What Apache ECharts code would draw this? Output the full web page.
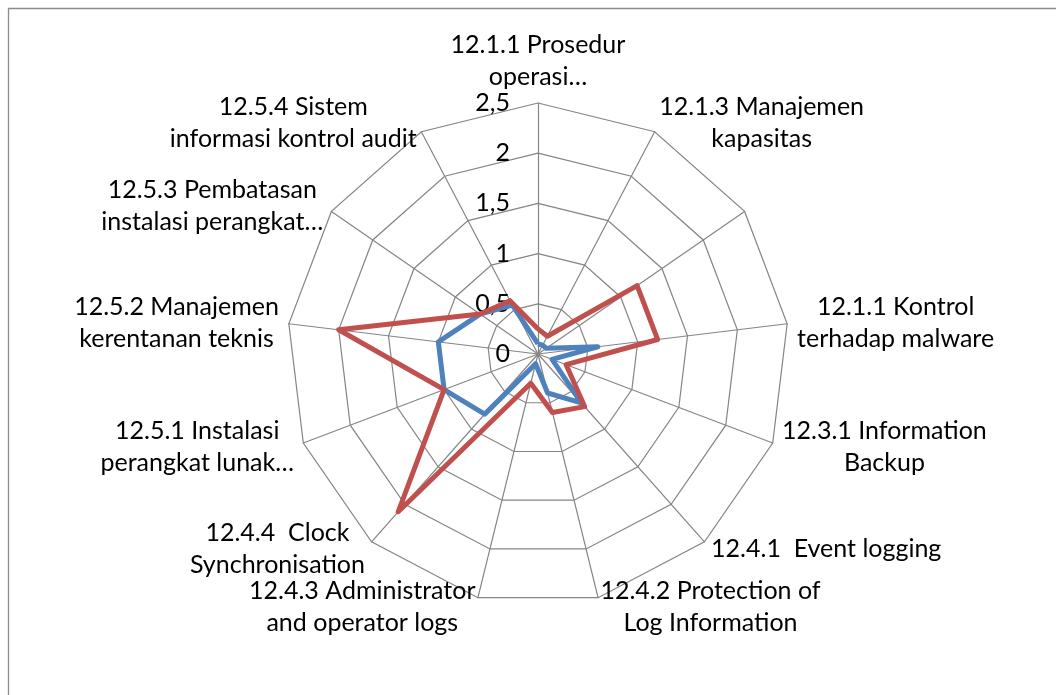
<!DOCTYPE html>
<html>
<head>
<meta charset="utf-8">
<script src="https://cdn.jsdelivr.net/npm/echarts@6/dist/echarts.min.js"></script>
<style>
  html, body { margin: 0; padding: 0; background: #fff; }
  #chart { width: 1056px; height: 695px; }
</style>
</head>
<body>
<div id="chart"></div>
<script>
// categories in clockwise order, starting at the top spoke
const categories = [
  '12.1.1 Prosedur\noperasi…',
  '12.1.3 Manajemen\nkapasitas',
  '',
  '12.1.1 Kontrol\nterhadap malware',
  '12.3.1 Information\nBackup',
  '12.4.1  Event logging',
  '12.4.2 Protection of\nLog Information',
  '12.4.3 Administrator\nand operator logs',
  '12.4.4  Clock\nSynchronisation',
  '12.5.1 Instalasi\nperangkat lunak…',
  '12.5.2 Manajemen\nkerentanan teknis',
  '12.5.3 Pembatasan\ninstalasi perangkat…',
  '12.5.4 Sistem\ninformasi kontrol audit'
];
const blueValues = [0.1, 0.1, 0.1, 0.6, 0.15, 0.65, 0.4, 0.1, 0.8, 1.0, 1.0, 0.7, 0.55];
const redValues  = [0.25, 0.2, 1.2, 1.2, 0.3, 0.7, 0.6, 0.3, 2.1, 1.0, 2.0, 0.7, 0.6];
const tickLabels = ['0', '0,5', '1', '1,5', '2', '2,5'];
const axisMax = 2.5;

const FONT = 'Lato';
const GRID = '#858585';

// echarts lays radar axes out counter-clockwise, so flip the order
const order = [0].concat(categories.map((c, i) => i).slice(1).reverse());

const indicator = order.map((i, k) => {
  const ind = { name: categories[i], min: 0, max: axisMax };
  if (k === 0) ind.axisLabel = { show: true };
  return ind;
});

const chart = echarts.init(document.getElementById('chart'));

chart.setOption({
  backgroundColor: '#fff',
  animation: false,
  graphic: [{
    type: 'rect',
    shape: { x: 8.5, y: 8.5, width: 1100, height: 800 },
    style: { fill: 'none', stroke: '#8c8c8c', lineWidth: 1.3 },
    silent: true
  }],
  radar: {
    center: [538, 354],
    radius: 251,
    startAngle: 90,
    shape: 'polygon',
    splitNumber: 5,
    indicator: indicator,
    nameGap: 10,
    axisName: {
      color: '#000',
      fontFamily: FONT,
      fontSize: 25,
      formatter: function (name) {
        if (!name) return '';
        return name.split('\n').map(s => '{c|' + s + '}').join('\n');
      },
      rich: {
        c: { align: 'center', color: '#000', fontFamily: FONT, fontSize: 25, lineHeight: 32 }
      }
    },
    axisLine: { lineStyle: { color: GRID, width: 1.2 } },
    splitLine: { lineStyle: { color: GRID, width: 1.2 } },
    splitArea: { show: false },
    axisTick: { show: false },
    axisLabel: {
      show: false,
      color: '#000',
      fontFamily: FONT,
      fontSize: 25,
      margin: 28,
      formatter: function (v) {
        return tickLabels[Math.round(v / 0.5)];
      }
    }
  },
  series: [{
    type: 'radar',
    symbol: 'none',
    data: [
      {
        name: 'blue',
        value: order.map(i => blueValues[i]),
        lineStyle: { color: '#4F81BD', width: 5 },
        itemStyle: { color: '#4F81BD' }
      },
      {
        name: 'red',
        value: order.map(i => redValues[i]),
        lineStyle: { color: '#C0504D', width: 5 },
        itemStyle: { color: '#C0504D' }
      }
    ]
  }]
});
</script>
</body>
</html>
